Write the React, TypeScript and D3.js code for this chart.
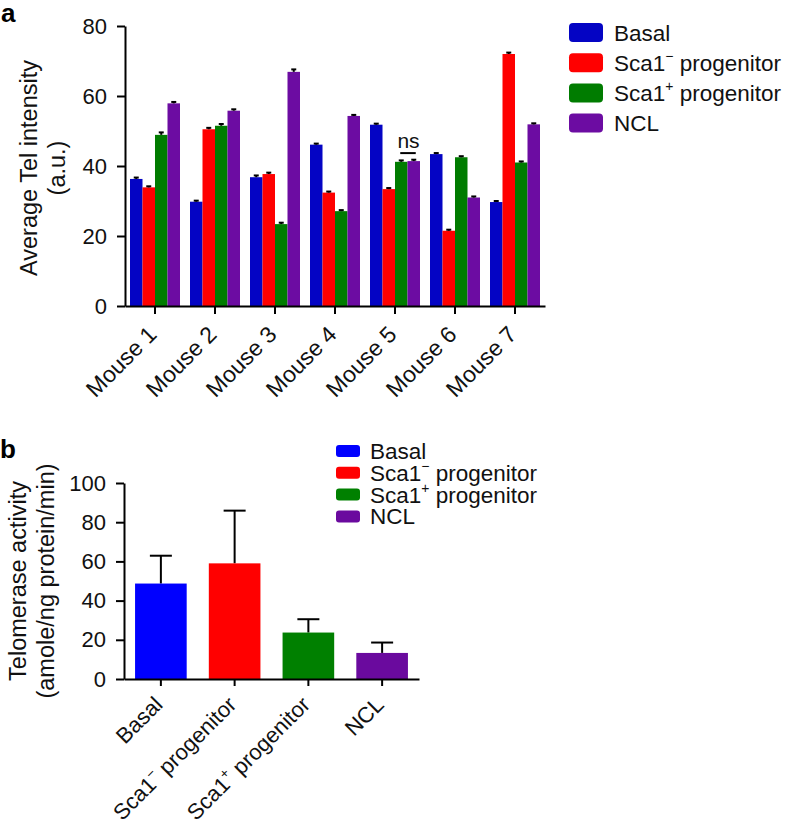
import { useEffect, useRef } from 'react';
import * as d3 from 'd3';

// Panel a: average Tel intensity per mouse
const mice = ['Mouse 1', 'Mouse 2', 'Mouse 3', 'Mouse 4', 'Mouse 5', 'Mouse 6', 'Mouse 7'];
const cellTypes = ['Basal', 'Sca1⁻ progenitor', 'Sca1⁺ progenitor', 'NCL'];
const basalTel = [36.3, 29.8, 36.8, 46.1, 51.8, 43.4, 29.7];
const sca1NegTel = [33.9, 50.5, 37.7, 32.4, 33.4, 21.5, 72.0];
const sca1PosTel = [48.9, 51.5, 23.4, 27.1, 41.2, 42.5, 41.0];
const nclTel = [57.9, 55.8, 66.9, 54.3, 41.4, 31.0, 51.9];
const basalTelErr = [0.4, 0.3, 0.5, 0.3, 0.3, 0.3, 0.3];
const sca1NegTelErr = [0.3, 0.4, 0.4, 0.3, 0.3, 0.3, 0.4];
const sca1PosTelErr = [0.7, 0.5, 0.4, 0.3, 0.4, 0.3, 0.3];
const nclTelErr = [0.4, 0.4, 0.7, 0.3, 0.4, 0.3, 0.3];
const telTicks = [0, 20, 40, 60, 80];

// Panel b: telomerase activity per cell type
const activity = [48.7, 59.0, 23.7, 13.3];
const activityErr = [14.2, 26.9, 6.8, 5.3];
const activityTicks = [0, 20, 40, 60, 80, 100];

const colorsA = ['#0404c4', '#ff0000', '#007c00', '#6c0ca2'];
const colorsB = ['#0000ff', '#ff0000', '#008000', '#6a0a9e'];
const FONT = '"Liberation Sans", Arial, Helvetica, sans-serif';

// writes a label, turning ⁻ / ⁺ into a raised small glyph
function writeLabel(sel: any, label: string, fs: number) {
    sel.text(null);
    const m = label.match(/^(.*?)([⁻⁺])(.*)$/);
    if (!m) {
        sel.append('tspan').text(label);
        return;
    }
    sel.append('tspan').text(m[1]);
    sel.append('tspan')
        .attr('dy', -0.42 * fs)
        .attr('font-size', fs * 0.62)
        .text(m[2] === '⁻' ? '−' : '+');
    sel.append('tspan').attr('dy', 0.42 * fs).text(m[3]);
}

export default function App() {
    const ref = useRef<SVGSVGElement>(null);

    useEffect(() => {
        if (!ref.current) return;
        document.body.style.margin = '0';
        const svg = d3.select(ref.current);
        svg.selectAll('*').remove();
        svg.attr('font-family', FONT);

        const tickFs = 22;
        const labelFs = 23;
        const titleFs = 23.5;
        const legendFs = 22.5;

        // ---------- Panel a ----------
        const series = [basalTel, sca1NegTel, sca1PosTel, nclTel];
        const seriesErr = [basalTelErr, sca1NegTelErr, sca1PosTelErr, nclTelErr];

        const x0 = d3.scaleBand<string>().domain(mice).range([125, 545]).paddingInner(1 / 6).paddingOuter(1 / 12);
        const x1 = d3.scaleBand<string>().domain(cellTypes).range([0, x0.bandwidth()]);
        const yA = d3.scaleLinear().domain([0, 80]).range([306, 26]);

        const gA = svg.append('g');

        cellTypes.forEach((ct, k) => {
            gA.append('g')
                .selectAll('rect')
                .data(mice)
                .enter()
                .append('rect')
                .attr('x', m => (x0(m) ?? 0) + (x1(ct) ?? 0))
                .attr('width', x1.bandwidth())
                .attr('y', (_, i) => yA(series[k][i]))
                .attr('height', (_, i) => yA(0) - yA(series[k][i]))
                .attr('fill', colorsA[k]);

            // tiny error bars
            const eb = gA.append('g').attr('stroke', '#000').attr('stroke-width', 2);
            mice.forEach((m, i) => {
                const cx = (x0(m) ?? 0) + (x1(ct) ?? 0) + x1.bandwidth() / 2;
                const top = yA(series[k][i] + seriesErr[k][i]);
                eb.append('line').attr('x1', cx).attr('x2', cx).attr('y1', yA(series[k][i])).attr('y2', top);
                eb.append('line').attr('x1', cx - 2.5).attr('x2', cx + 2.5).attr('y1', top).attr('y2', top);
            });
        });

        // Y axis a
        const yAxisA = gA.append('g')
            .attr('transform', `translate(125,0)`)
            .call(d3.axisLeft(yA).tickValues(telTicks).tickSize(8).tickSizeOuter(0).tickPadding(10));
        yAxisA.selectAll('path, line').attr('stroke', '#000').attr('stroke-width', 2);
        yAxisA.selectAll('text').attr('font-size', tickFs).attr('font-family', FONT).attr('fill', '#111');

        // X axis a
        const xAxisA = gA.append('g')
            .attr('transform', `translate(0,${yA(0)})`)
            .call(d3.axisBottom(x0).tickSize(8).tickSizeOuter(0));
        xAxisA.selectAll('path, line').attr('stroke', '#000').attr('stroke-width', 2);
        xAxisA.selectAll('text')
            .attr('font-size', labelFs).attr('font-family', FONT).attr('fill', '#111')
            .attr('x', 0).attr('y', 0).attr('dy', 0)
            .attr('text-anchor', 'end')
            .attr('transform', 'translate(3,30) rotate(-45)');

        // Y title a
        const titleA = gA.append('text')
            .attr('transform', `translate(0,${(yA(0) + yA(80)) / 2 + 2}) rotate(-90)`)
            .attr('text-anchor', 'middle')
            .attr('font-size', titleFs)
            .attr('fill', '#111');
        titleA.append('tspan').attr('x', 0).attr('y', 37).text('Average Tel intensity');
        titleA.append('tspan').attr('x', 0).attr('y', 65).text('(a.u.)');

        // ns marker between Sca1+ and NCL of Mouse 5
        const nsA = (x0('Mouse 5') ?? 0) + (x1(cellTypes[2]) ?? 0) + x1.bandwidth() / 2;
        const nsB = (x0('Mouse 5') ?? 0) + (x1(cellTypes[3]) ?? 0) + x1.bandwidth() / 2;
        const nsTop = yA(Math.max(sca1PosTel[4], nclTel[4]));
        gA.append('line')
            .attr('x1', nsA - 1).attr('x2', nsB + 2)
            .attr('y1', nsTop - 8).attr('y2', nsTop - 8)
            .attr('stroke', '#000').attr('stroke-width', 2);
        gA.append('text')
            .attr('x', (nsA + nsB) / 2 + 1).attr('y', nsTop - 13)
            .attr('text-anchor', 'middle').attr('font-size', 21).attr('fill', '#111')
            .text('ns');

        // Legend a
        const legA = gA.append('g');
        cellTypes.forEach((ct, k) => {
            const cy = 32.5 + k * 30.2;
            legA.append('rect').attr('x', 569).attr('y', cy - 9.5).attr('width', 34).attr('height', 19).attr('rx', 4).attr('fill', colorsA[k]);
            const t = legA.append('text').attr('x', 614).attr('y', cy + 8).attr('font-size', legendFs).attr('fill', '#111');
            writeLabel(t, ct, legendFs);
        });

        // panel letter a
        svg.append('text').attr('x', 1).attr('y', 22).attr('font-size', 26).attr('font-weight', 'bold').text('a');

        // ---------- Panel b ----------
        const xB = d3.scaleBand<string>().domain(cellTypes).range([124, 419]).paddingInner(0.3).paddingOuter(0.15);
        const yB = d3.scaleLinear().domain([0, 100]).range([679, 483]);
        const gB = svg.append('g');

        // error bars (upper only) drawn before bars
        const ebB = gB.append('g').attr('stroke', '#000').attr('stroke-width', 2);
        cellTypes.forEach((ct, i) => {
            const cx = (xB(ct) ?? 0) + xB.bandwidth() / 2;
            const top = yB(activity[i] + activityErr[i]);
            ebB.append('line').attr('x1', cx).attr('x2', cx).attr('y1', yB(activity[i])).attr('y2', top);
            ebB.append('line').attr('x1', cx - 11).attr('x2', cx + 11).attr('y1', top).attr('y2', top);
        });

        gB.append('g')
            .selectAll('rect')
            .data(cellTypes)
            .enter()
            .append('rect')
            .attr('x', d => xB(d) ?? 0)
            .attr('width', xB.bandwidth())
            .attr('y', (_, i) => yB(activity[i]))
            .attr('height', (_, i) => yB(0) - yB(activity[i]))
            .attr('fill', (_, i) => colorsB[i]);

        const yAxisB = gB.append('g')
            .attr('transform', 'translate(124,0)')
            .call(d3.axisLeft(yB).tickValues(activityTicks).tickSize(8).tickSizeOuter(0).tickPadding(10));
        yAxisB.selectAll('path, line').attr('stroke', '#000').attr('stroke-width', 2);
        yAxisB.selectAll('text').attr('font-size', tickFs).attr('font-family', FONT).attr('fill', '#111');

        const bLabelFs = 22;
        const xAxisB = gB.append('g')
            .attr('transform', `translate(0,${yB(0)})`)
            .call(d3.axisBottom(xB).tickSize(7).tickSizeOuter(0));
        xAxisB.selectAll('path, line').attr('stroke', '#000').attr('stroke-width', 2);
        xAxisB.selectAll<SVGTextElement, string>('text')
            .attr('font-size', bLabelFs).attr('font-family', FONT).attr('fill', '#111')
            .attr('x', 0).attr('y', 0).attr('dy', 0)
            .attr('text-anchor', 'end')
            .attr('transform', 'translate(3,27) rotate(-45)')
            .each(function (d) {
                writeLabel(d3.select(this), d, bLabelFs);
            });

        const titleB = gB.append('text')
            .attr('transform', `translate(0,${(yB(0) + yB(100)) / 2}) rotate(-90)`)
            .attr('text-anchor', 'middle')
            .attr('font-size', titleFs)
            .attr('fill', '#111');
        titleB.append('tspan').attr('x', 0).attr('y', 26).text('Telomerase activity');
        titleB.append('tspan').attr('x', 0).attr('y', 54).text('(amole/ng protein/min)');

        const legB = gB.append('g');
        cellTypes.forEach((ct, k) => {
            const cy = 451 + k * 21.8;
            legB.append('rect').attr('x', 336).attr('y', cy - 6).attr('width', 24).attr('height', 12).attr('rx', 3).attr('fill', colorsB[k]);
            const t = legB.append('text').attr('x', 370).attr('y', cy + 8).attr('font-size', legendFs).attr('fill', '#111');
            writeLabel(t, ct, legendFs);
        });

        svg.append('text').attr('x', 0).attr('y', 458).attr('font-size', 26).attr('font-weight', 'bold').text('b');
    }, []);

    return <svg ref={ref} width={788} height={826} style={{ display: 'block', background: '#fff' }} />;
}
